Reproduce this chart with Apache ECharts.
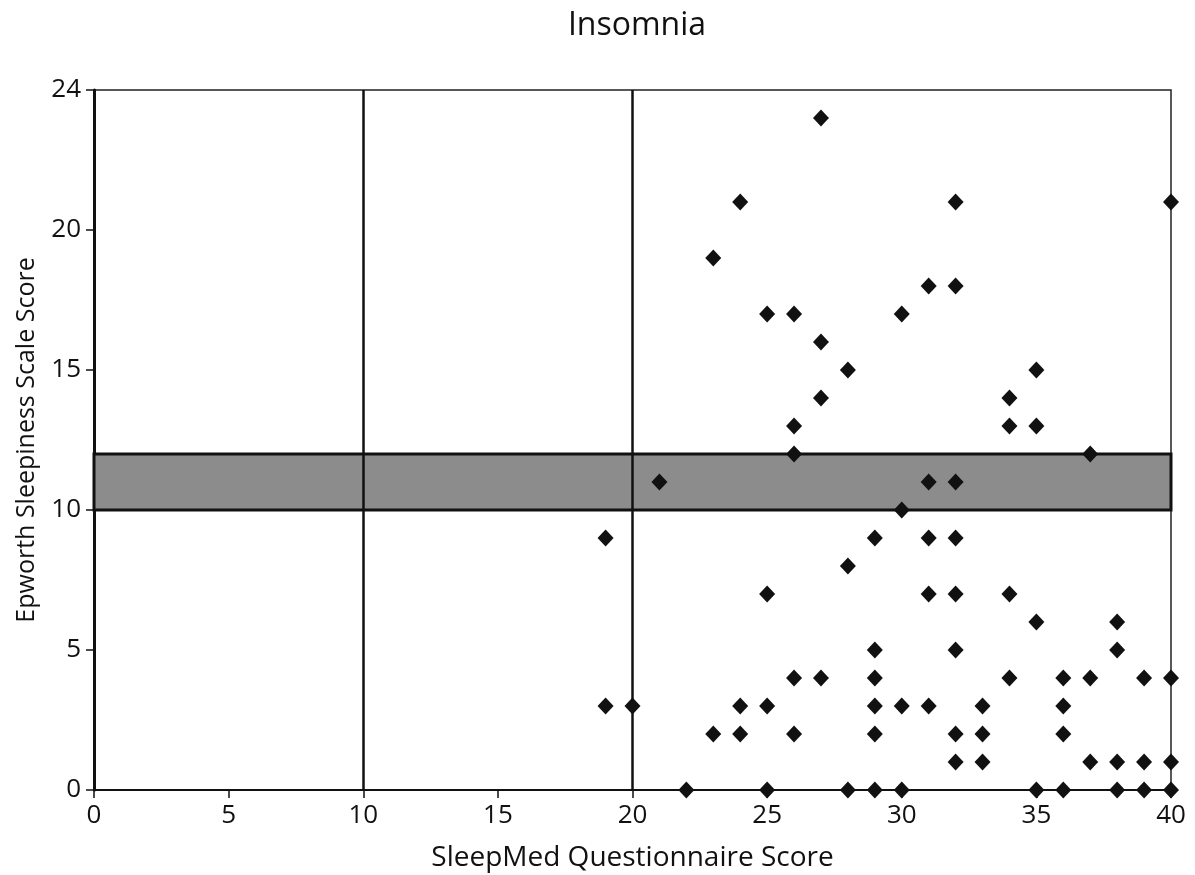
<!DOCTYPE html>
<html>
<head>
<meta charset="utf-8">
<title>Insomnia</title>
<script src="https://cdn.jsdelivr.net/npm/echarts@6/dist/echarts.min.js"></script>
<style>
  html, body { margin: 0; padding: 0; background: #fff; }
  #chart { width: 1195px; height: 875px; }
</style>
</head>
<body>
<div id="chart"></div>
<script>
// SleepMed score (x) and Epworth score (y) for each patient
const sleepMed = [
  27, 24, 32, 40, 23, 25, 26, 30, 31, 32, 27, 28, 35, 27, 34, 26, 34, 35, 26, 37,
  21, 31, 32, 30, 19, 29, 31, 32, 28, 25, 31, 32, 34, 35, 38, 29, 32, 38,
  26, 27, 29, 34, 36, 37, 39, 40,
  19, 20, 24, 25, 29, 30, 31, 33, 36,
  23, 24, 26, 29, 32, 33, 36,
  32, 33, 37, 38, 39, 40,
  22, 25, 28, 29, 30, 35, 36, 38, 39, 40
];
const epworth = [
  24, 21, 21, 21, 19, 17, 17, 17, 18, 18, 16, 15, 15, 14, 14, 13, 13, 13, 12, 12,
  11, 11, 11, 10, 9, 9, 9, 9, 8, 7, 7, 7, 7, 6, 6, 5, 5, 5,
  4, 4, 4, 4, 4, 4, 4, 4,
  3, 3, 3, 3, 3, 3, 3, 3, 3,
  2, 2, 2, 2, 2, 2, 2,
  1, 1, 1, 1, 1, 1,
  0, 0, 0, 0, 0, 0, 0, 0, 0, 0
];

// axis ticks as printed on the original
const xTicks = [0, 5, 10, 15, 20, 25, 30, 35, 40];
const yTicks = [0, 5, 10, 15, 20, 25];
const yTickLabels = ['0', '5', '10', '15', '20', '24'];

// reference lines and the shaded Epworth band
const sleepMedCutoffs = [10, 20];
const epworthBand = [10, 12];

const font = '"Open Sans", "Noto Sans", sans-serif';
const points = sleepMed.map((x, i) => [x, epworth[i]]);

const chart = echarts.init(document.getElementById('chart'));

chart.setOption({
  animation: false,
  backgroundColor: '#fff',
  title: {
    text: 'Insomnia',
    left: 632,
    top: 5,
    textAlign: 'center',
    textStyle: { fontFamily: font, fontSize: 32, fontWeight: 'normal', color: '#111' }
  },
  grid: {
    left: 94, right: 24, top: 90, bottom: 85,
    outerBoundsMode: 'none',
    containLabel: false,
    show: true, borderColor: '#222', borderWidth: 1.5
  },
  xAxis: {
    type: 'value',
    min: xTicks[0], max: xTicks[xTicks.length - 1], interval: 5,
    name: 'SleepMed Questionnaire Score',
    nameLocation: 'middle', nameGap: 54,
    nameTextStyle: { fontFamily: font, fontSize: 28, color: '#111' },
    axisLine: { onZero: false, lineStyle: { color: '#111', width: 2 } },
    axisTick: { show: true, length: 8, lineStyle: { color: '#111', width: 1.5 } },
    axisLabel: { fontFamily: font, fontSize: 26, color: '#111', margin: 13 },
    splitLine: { show: false }
  },
  yAxis: {
    type: 'value',
    min: yTicks[0], max: yTicks[yTicks.length - 1], interval: 5,
    name: 'Epworth Sleepiness Scale Score',
    nameLocation: 'middle', nameGap: 55,
    nameTextStyle: { fontFamily: font, fontSize: 25, color: '#111' },
    axisLine: { onZero: false, lineStyle: { color: '#111', width: 3 } },
    axisTick: { show: true, length: 8, lineStyle: { color: '#111', width: 1.5 } },
    axisLabel: {
      fontFamily: font, fontSize: 26, color: '#111', margin: 13,
      formatter: v => yTickLabels[yTicks.indexOf(v)]
    },
    splitLine: { show: false }
  },
  series: [
    {
      // guides only: shaded band and the two cutoff lines
      type: 'scatter',
      data: [],
      z: 1,
      silent: true,
      markArea: {
        silent: true,
        itemStyle: { color: '#8c8c8c', borderColor: '#111', borderWidth: 3 },
        data: [[{ yAxis: epworthBand[0] }, { yAxis: epworthBand[1] }]]
      },
      markLine: {
        silent: true,
        symbol: 'none',
        label: { show: false },
        lineStyle: { color: '#111', width: 2.5, type: 'solid' },
        data: sleepMedCutoffs.map(v => ({ xAxis: v }))
      }
    },
    {
      name: 'Insomnia',
      type: 'scatter',
      z: 5,
      symbol: 'diamond',
      symbolSize: [16, 17],
      itemStyle: { color: '#111', opacity: 1 },
      data: points
    }
  ]
});
</script>
</body>
</html>
